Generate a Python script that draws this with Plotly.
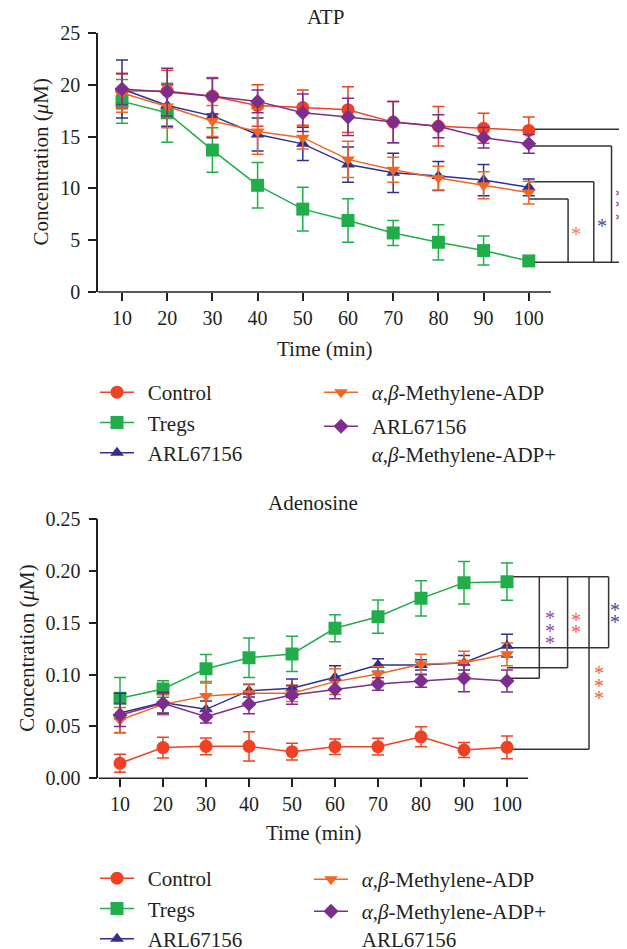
import plotly.graph_objects as go

# page shows the figure with the browser's default 8 px body margin
OFF = 8
FW, FH = 627 - OFF, 949 - OFF
FONT = "Liberation Serif"
INK = "#231F20"

time_min = [10, 20, 30, 40, 50, 60, 70, 80, 90, 100]

# ---- ATP (µM) ----
atp_control = [19.4, 19.4, 18.9, 18.0, 17.8, 17.6, 16.4, 16.0, 15.8, 15.6]
atp_control_err = [1.7, 2.0, 1.8, 2.0, 1.7, 2.2, 2.0, 1.9, 1.45, 1.3]
atp_tregs = [18.4, 17.3, 13.7, 10.3, 8.0, 6.9, 5.7, 4.8, 4.0, 3.0]
atp_tregs_err = [2.1, 2.85, 2.15, 2.2, 2.1, 2.1, 1.2, 1.7, 1.4, 0.3]
atp_arl = [19.6, 18.0, 17.0, 15.2, 14.3, 12.3, 11.5, 11.2, 10.8, 10.1]
atp_arl_err = [2.8, 2.0, 2.1, 1.6, 1.6, 1.7, 1.9, 1.4, 1.5, 0.8]
atp_meadp = [19.2, 17.9, 16.5, 15.5, 14.9, 12.8, 11.8, 11.0, 10.3, 9.6]
atp_meadp_err = [1.85, 2.05, 1.5, 2.2, 1.1, 1.75, 1.2, 1.15, 1.3, 1.1]
atp_combo = [19.6, 19.3, 18.9, 18.4, 17.3, 16.9, 16.4, 16.0, 14.9, 14.3]
atp_combo_err = [1.5, 2.3, 1.7, 1.1, 1.8, 1.8, 2.0, 1.1, 1.0, 0.9]

# ---- Adenosine (µM) ----
ado_control = [0.0145, 0.0296, 0.0308, 0.0308, 0.0257, 0.0305, 0.0305, 0.040, 0.0273, 0.0299]
ado_control_err = [0.0087, 0.010, 0.008, 0.014, 0.008, 0.0075, 0.008, 0.0097, 0.0073, 0.011]
ado_tregs = [0.0771, 0.0861, 0.1057, 0.1163, 0.1199, 0.1446, 0.1558, 0.1735, 0.1886, 0.1896]
ado_tregs_err = [0.020, 0.008, 0.0137, 0.019, 0.017, 0.013, 0.016, 0.017, 0.0205, 0.018]
ado_arl = [0.063, 0.073, 0.0665, 0.0845, 0.0868, 0.0974, 0.1093, 0.1093, 0.1115, 0.1279]
ado_arl_err = [0.019, 0.010, 0.008, 0.006, 0.009, 0.011, 0.006, 0.005, 0.007, 0.011]
ado_meadp = [0.0562, 0.0713, 0.0794, 0.0819, 0.082, 0.0932, 0.1006, 0.110, 0.1115, 0.1195]
ado_meadp_err = [0.012, 0.010, 0.014, 0.009, 0.008, 0.0125, 0.007, 0.0095, 0.011, 0.011]
ado_combo = [0.061, 0.0723, 0.0594, 0.0717, 0.0803, 0.0858, 0.0909, 0.0938, 0.0964, 0.0938]
ado_combo_err = [0.011, 0.010, 0.006, 0.0095, 0.009, 0.009, 0.006, 0.006, 0.013, 0.0105]

atp_ticks = [0, 5, 10, 15, 20, 25]
ado_ticks = [0.00, 0.05, 0.10, 0.15, 0.20, 0.25]

# significance brackets (data units)
atp_br_y = {"control": 15.70, "combo": 14.09, "arl": 10.65, "meadp": 8.98, "tregs": 2.87}
atp_br_x = {"meadp": 108.69, "arl": 114.38, "combo": 118.30}
atp_stars = [("*", "#F5823F", 110.55, [5.92]),
             ("*", "#4548A0", 116.22, [6.69]),
             ("*", "#8E4BA5", 120.13, [9.58, 8.47, 7.27])]
ado_br_y = {"tregs": 0.1944, "arl": 0.1259, "meadp": 0.1067, "combo": 0.0964, "control": 0.0280}
ado_br_x = {"combo": 107.51, "meadp": 114.09, "control": 119.07, "arl": 123.63}
ado_stars = [("*", "#8E4BA5", 110.07, [0.1575, 0.1452, 0.1331]),
             ("*", "#F1604A", 116.12, [0.1558, 0.1440]),
             ("*", "#4548A0", 125.19, [0.1649, 0.1533]),
             ("*", "#F1604A", 121.30, [0.1044, 0.0922, 0.0803])]

C_CONTROL = "#EF4123"
C_TREGS = "#22AD4B"
C_ARL = "#2E3192"
C_MEADP = "#F26522"
C_COMBO = "#7B2E8E"

PAD = "\u00a0\u2006"
AB = "<i>α</i>,<i>β</i>-Methylene-ADP"

def sx(px):  # screen px -> paper x
    return (px - OFF) / FW

def sy(py):  # screen px -> paper y
    return 1 - (py - OFF) / FH

fig = go.Figure()

series_top = [
    ("Control", atp_control, atp_control_err, C_CONTROL, "circle", 13, "legend"),
    ("Tregs", atp_tregs, atp_tregs_err, C_TREGS, "square", 13, "legend"),
    ("ARL67156", atp_arl, atp_arl_err, C_ARL, "triangle-up", 12, "legend"),
    (AB, atp_meadp, atp_meadp_err, C_MEADP, "triangle-down", 12, "legend2"),
    ("ARL67156<br>" + PAD + AB + "+", atp_combo, atp_combo_err, C_COMBO, "diamond", 11.5, "legend3"),
]
series_bot = [
    ("Control", ado_control, ado_control_err, C_CONTROL, "circle", 13, "legend4"),
    ("Tregs", ado_tregs, ado_tregs_err, C_TREGS, "square", 13, "legend4"),
    ("ARL67156", ado_arl, ado_arl_err, C_ARL, "triangle-up", 12, "legend4"),
    (AB, ado_meadp, ado_meadp_err, C_MEADP, "triangle-down", 12, "legend5"),
    (AB + "+<br>" + PAD + "ARL67156", ado_combo, ado_combo_err, C_COMBO, "diamond", 11.5, "legend6"),
]

for series, xa, ya in [(series_top, "x", "y"), (series_bot, "x2", "y2")]:
    for name, vals, errs, col, sym, size, leg in series:
        fig.add_trace(go.Scatter(
            x=time_min, y=vals, name=PAD + name, mode="lines+markers",
            line=dict(color=col, width=1.5),
            marker=dict(symbol=sym, size=size, color=col, line=dict(width=0)),
            error_y=dict(type="data", array=errs, visible=True, color=col,
                         thickness=1.5, width=6),
            xaxis=xa, yaxis=ya, legend=leg,
        ))

# ---- axes (screen pixel layout of the reference) ----
top_left, top_t, top_b = 98, 33, 292
bot_left, bot_t, bot_b = 98.3, 519, 778.3
right_edge = 627
top_xrange = [4.69, 4.69 + (right_edge - top_left) / 4.52]
bot_xrange = [4.95, 4.95 + (right_edge - bot_left) / 4.30]
AX_END = 104.9

tickfont = dict(family=FONT, size=20, color=INK)
common_x = dict(tickvals=time_min, ticks="outside", ticklen=8, tickwidth=1.5,
                tickcolor=INK, showline=False, showgrid=False, zeroline=False,
                tickfont=tickfont, ticklabelstandoff=0, automargin=False)
common_y = dict(ticks="outside", ticklen=8, tickwidth=1.5, tickcolor=INK,
                showline=True, linewidth=1.5, linecolor=INK, showgrid=False,
                zeroline=False, tickfont=tickfont, ticklabelstandoff=4, automargin=False)

fig.update_layout(
    xaxis=dict(domain=[sx(top_left), 1], range=top_xrange, anchor="y", **common_x),
    yaxis=dict(domain=[sy(top_b), sy(top_t)], range=[0, 25], anchor="x",
               tickvals=atp_ticks, **common_y),
    xaxis2=dict(domain=[sx(bot_left), 1], range=bot_xrange, anchor="y2", **common_x),
    yaxis2=dict(domain=[sy(bot_b), sy(bot_t)], range=[0, 0.25], anchor="x2",
                tickvals=ado_ticks, tickformat=".2f", **common_y),
)

shapes = []
line_st = dict(color="#333333", width=1.5)
# x axis lines
shapes.append(dict(type="line", xref="x", yref="y domain", x0=top_xrange[0] + 0.05, x1=AX_END, y0=0, y1=0,
                   line=dict(color=INK, width=1.5)))
shapes.append(dict(type="line", xref="x2", yref="y2 domain", x0=bot_xrange[0] + 0.05, x1=AX_END, y0=0, y1=0,
                   line=dict(color=INK, width=1.5)))
# ATP brackets
x0 = 100
far = 130
shapes.append(dict(type="line", xref="x", yref="y", x0=x0, x1=far, y0=atp_br_y["control"], y1=atp_br_y["control"], line=line_st, layer="below"))
shapes.append(dict(type="line", xref="x", yref="y", x0=x0, x1=far, y0=atp_br_y["tregs"], y1=atp_br_y["tregs"], line=line_st, layer="below"))
for k in ["meadp", "arl", "combo"]:
    shapes.append(dict(type="line", xref="x", yref="y", x0=x0, x1=atp_br_x[k], y0=atp_br_y[k], y1=atp_br_y[k], line=line_st, layer="below"))
    shapes.append(dict(type="line", xref="x", yref="y", x0=atp_br_x[k], x1=atp_br_x[k], y0=atp_br_y["tregs"], y1=atp_br_y[k], line=line_st, layer="below"))
# Adenosine brackets
shapes.append(dict(type="line", xref="x2", yref="y2", x0=x0, x1=ado_br_x["arl"], y0=ado_br_y["tregs"], y1=ado_br_y["tregs"], line=line_st, layer="below"))
for k in ["combo", "meadp", "control", "arl"]:
    shapes.append(dict(type="line", xref="x2", yref="y2", x0=x0, x1=ado_br_x[k], y0=ado_br_y[k], y1=ado_br_y[k], line=line_st, layer="below"))
    shapes.append(dict(type="line", xref="x2", yref="y2", x0=ado_br_x[k], x1=ado_br_x[k], y0=ado_br_y["tregs"], y1=ado_br_y[k], line=line_st, layer="below"))
fig.update_layout(shapes=shapes)

ann = []
def text_ann(txt, px, py, size=21, angle=0):
    ann.append(dict(text=txt, xref="paper", yref="paper", x=sx(px), y=sy(py),
                    xanchor="center", yanchor="middle", showarrow=False, textangle=angle,
                    font=dict(family=FONT, size=size, color=INK)))
text_ann("ATP", 325, 17)
text_ann("Time (min)", 324.5, 349)
text_ann("Adenosine", 313, 503)
text_ann("Time (min)", 313, 833)
text_ann("Concentration (<i>μ</i>M)", 40, (top_t + top_b) / 2, angle=-90)
text_ann("Concentration (<i>μ</i>M)", 27, (bot_t + bot_b) / 2, angle=-90)

for stars, xa, ya in [(atp_stars, "x", "y"), (ado_stars, "x2", "y2")]:
    for ch, col, stx, sys_ in stars:
        for sty in sys_:
            ann.append(dict(text=ch, xref=xa, yref=ya, x=stx, y=sty, showarrow=False,
                            xanchor="center", yanchor="middle", yshift=-3,
                            font=dict(family=FONT, size=20, color=col)))
fig.update_layout(annotations=ann)

legfont = dict(family=FONT, size=21, color=INK)
def leg(left_px, first_row_px, valign="middle"):
    # legend box top sits ~21 px above the first row's centre
    return dict(x=sx(left_px), y=sy(first_row_px - 21), xanchor="left", yanchor="top",
                xref="paper", yref="paper", font=legfont, itemwidth=34, bgcolor="rgba(0,0,0,0)",
                borderwidth=0, valign=valign, orientation="v", traceorder="normal")

fig.update_layout(
    legend=leg(95, 393),
    legend2=leg(319, 393),
    legend3=leg(319, 427, "top"),
    legend4=leg(95, 879),
    legend5=leg(309, 880),
    legend6=leg(309, 912, "top"),
)

fig.update_layout(width=FW, height=FH, margin=dict(l=0, r=0, t=0, b=0, autoexpand=False),
                  paper_bgcolor="white", plot_bgcolor="white", showlegend=True,
                  font=dict(family=FONT, color=INK))

fig.write_html("out.html")
